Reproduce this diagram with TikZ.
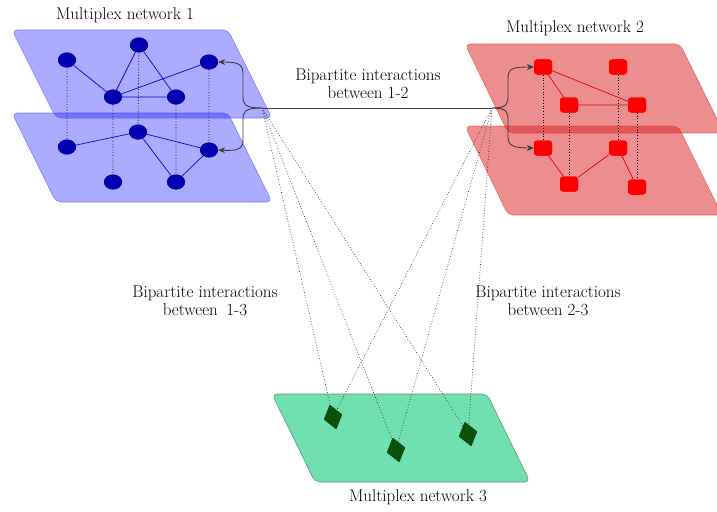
\documentclass[tikz,border=0pt]{standalone}
\usetikzlibrary{shapes.geometric,arrows.meta}
\definecolor{bfill}{RGB}{0,0,255}
\definecolor{bnode}{RGB}{0,0,176}
\definecolor{rfill}{RGB}{220,30,30}
\definecolor{gfill}{RGB}{112,224,176}
\definecolor{gnode}{RGB}{10,80,10}
\definecolor{arrcol}{RGB}{60,60,60}
\tikzset{
  bplane/.style={fill=bfill, fill opacity=0.33, draw=bfill!70, draw opacity=0.6, line width=0.6pt, rounded corners=5pt},
  rplane/.style={fill=rfill, fill opacity=0.5, draw=rfill, draw opacity=0.5, line width=0.6pt, rounded corners=5pt},
  gplane/.style={fill=gfill, draw=gfill!70!black, line width=0.6pt, rounded corners=5pt},
  bnd/.style={ellipse, fill=bnode, minimum width=18pt, minimum height=15pt, inner sep=0pt},
  rnd/.style={rectangle, rounded corners=3pt, fill=red, minimum width=18pt, minimum height=15pt, inner sep=0pt},
  gnd/.style={diamond, fill=gnode, draw=gnode, line width=1pt, line join=round, minimum width=18pt, minimum height=24pt, inner sep=0pt, rotate=15},
  bedge/.style={draw=blue!85!black, line width=0.7pt},
  redge/.style={draw=red!85!black, line width=0.7pt},
  vlink/.style={dotted, line width=0.8pt, black},
  bilink/.style={dotted, line width=0.7pt, black!80},
  arr/.style={draw=arrcol, line width=0.9pt, -{Stealth[length=7pt,width=6pt]}},
  lbl/.style={font=\fontsize{17}{17.5}\selectfont, text=black, align=center, inner sep=0pt},
}
\begin{document}
\begin{tikzpicture}[x=1pt,y=-1pt]
\useasboundingbox (0,0) rectangle (717,511);
\begin{scope}
\clip (0,0) rectangle (717,511);
% planes
\path[bplane] (12,113) -- (228,113) -- (272,202) -- (56,202) -- cycle;
\path[bplane] (12,30) -- (228,30) -- (272,118) -- (56,118) -- cycle;
\path[rplane] (465,44) -- (680,44) -- (724,133) -- (508,133) -- cycle;
\path[rplane] (465,126) -- (678,126) -- (722,215) -- (508,215) -- cycle;
\path[gplane] (272,394) -- (487,394) -- (530,482) -- (315,482) -- cycle;

% blue nodes
\node[bnd] (A1) at (67,60) {};
\node[bnd] (A2) at (139,45) {};
\node[bnd] (A3) at (209,62) {};
\node[bnd] (A4) at (113,97) {};
\node[bnd] (A5) at (176,97) {};
\node[bnd] (B1) at (67,147) {};
\node[bnd] (B2) at (138,132) {};
\node[bnd] (B3) at (209,150) {};
\node[bnd] (B4) at (113,182) {};
\node[bnd] (B5) at (176,182) {};

% red nodes
\node[rnd] (R1) at (543,67) {};
\node[rnd] (R2) at (618,67) {};
\node[rnd] (R3) at (569,105) {};
\node[rnd] (R4) at (637,105) {};
\node[rnd] (R5) at (543,148) {};
\node[rnd] (R6) at (618,148) {};
\node[rnd] (R7) at (569,184) {};
\node[rnd] (R8) at (637,187) {};

% green nodes
\node[gnd] (G1) at (333,417) {};
\node[gnd] (G2) at (396,450) {};
\node[gnd] (G3) at (468,434) {};

\coordinate (J1) at (262,108);
\coordinate (J2) at (492,108);

% edges
\draw[vlink] (A1) -- (B1) (A2) -- (B2) (A4) -- (B4) (A5) -- (B5) (A3) -- (B3);
\draw[vlink] (R1) -- (R5) (R3) -- (R7) (R2) -- (R6) (R4) -- (R8);
\draw[bedge] (A1) -- (A4) (A4) -- (A2) (A2) -- (A5) (A4) -- (A5) (A4) -- (A3);
\draw[bedge] (B1) -- (B2) (B2) -- (B3) (B2) -- (B5) (B5) -- (B3);
\draw[redge] (R1) -- (R3) (R1) -- (R4) (R3) -- (R4);
\draw[redge] (R5) -- (R7) (R7) -- (R6) (R6) -- (R8);

% redraw nodes on top of edges
\foreach \p in {{67,60},{139,45},{209,62},{113,97},{176,97},{67,147},{138,132},{209,150},{113,182},{176,182}}
  \node[bnd] at (\p) {};
\foreach \p in {{543,67},{618,67},{569,105},{637,105},{543,148},{618,148},{569,184},{637,187}}
  \node[rnd] at (\p) {};

% bipartite links
\draw[bilink] (J1) -- (G1.center) (J1) -- (G2.center) (J1) -- (G3.center);
\draw[bilink] (J2) -- (G1.center) (J2) -- (G2.center) (J2) -- (G3.center);
\foreach \p in {{333,417},{396,450},{468,434}}
  \node[gnd] at (\p) {};

% 1-2 connector
\draw[draw=arrcol, line width=0.9pt] (J1) -- (J2);
\draw[arr] (J1) .. controls (244,108) and (243,104) .. (243,96) -- (243,74) .. controls (243,64) and (238,62) .. (A3.east);
\draw[arr] (J1) .. controls (244,108) and (243,112) .. (243,120) -- (243,140) .. controls (243,149) and (238,151) .. (B3.east);
\draw[arr] (J2) .. controls (507,108) and (508,104) .. (508,96) -- (508,78) .. controls (508,68) and (514,67) .. (R1.west);
\draw[arr] (J2) .. controls (507,108) and (508,112) .. (508,120) -- (508,137) .. controls (508,146) and (514,148) .. (R5.west);
\end{scope}

% labels
\node[lbl] (t1) at (125,15) {Multiplex network 1};
\node[lbl] (t2) at (575,28) {Multiplex network 2};
\node[lbl] (t3) at (418,497) {Multiplex network 3};
\node[lbl] (l12) at (368,84) {Bipartite interactions\\between 1-2};
\node[lbl] (l13) at (205,301) {Bipartite interactions\\between\enspace1-3};
\node[lbl] (l23) at (548,301) {Bipartite interactions\\between 2-3};
\end{tikzpicture}
\end{document}
